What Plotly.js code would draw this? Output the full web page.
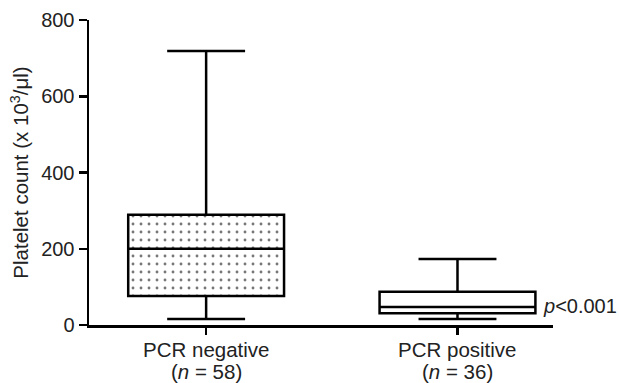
<!DOCTYPE html>
<html>
<head>
<meta charset="utf-8">
<script src="https://cdn.plot.ly/plotly-3.0.1.min.js"></script>
<style>html,body{margin:0;padding:0;background:#fff;}#chart{width:619px;height:383px;}</style>
</head>
<body>
<div id="chart"></div>
<script>
// Data
var categories = ['PCR negative', 'PCR positive'];
var nValues = [58, 36];
var lowerWhisker = [16, 16];
var q1Values = [76, 31];
var medianValues = [200, 47];
var q3Values = [289, 87];
var upperWhisker = [719, 173];
var yTicks = [0, 200, 400, 600, 800];
var pLabel = '<i>p</i>&lt;0.001';

var FONT = 'Liberation Sans, Arial, sans-serif';
var TXT = '#222';

// dotted fill for the PCR negative box (first category only)
var patternBar = {
  type: 'bar',
  x: [categories[0]],
  base: [q1Values[0]],
  y: [q3Values[0] - q1Values[0]],
  width: 0.62,
  marker: {
    color: 'white',
    line: {width: 0},
    pattern: {shape: '.', size: 8, solidity: 0.1, fgcolor: '#777', bgcolor: 'white'}
  },
  hoverinfo: 'skip',
  showlegend: false
};

var boxTrace = {
  type: 'box',
  x: categories,
  q1: q1Values,
  median: medianValues,
  q3: q3Values,
  lowerfence: lowerWhisker,
  upperfence: upperWhisker,
  width: 0.62,
  whiskerwidth: 0.5,
  boxpoints: false,
  fillcolor: 'rgba(0,0,0,0)',
  line: {color: '#000', width: 2.5},
  showlegend: false
};

// category labels as two lines with tight spacing
var labelAnnotations = [];
categories.forEach(function (c, i) {
  labelAnnotations.push({
    xref: 'x', yref: 'paper', x: c, y: -0.079,
    xanchor: 'center', yanchor: 'middle', showarrow: false,
    text: c, font: {family: FONT, size: 20.5, color: TXT}
  });
  labelAnnotations.push({
    xref: 'x', yref: 'paper', x: c, y: -0.152,
    xanchor: 'center', yanchor: 'middle', showarrow: false,
    text: '(<i>n</i> = ' + nValues[i] + ')', font: {family: FONT, size: 20.5, color: TXT}
  });
});

var layout = {
  width: 619,
  height: 383,
  margin: {l: 89, r: 66, t: 20, b: 58},
  paper_bgcolor: 'white',
  plot_bgcolor: 'white',
  font: {family: FONT, size: 20, color: TXT},
  showlegend: false,
  xaxis: {
    type: 'category',
    range: [-0.466, 1.38],
    tickvals: categories,
    showticklabels: false,
    ticks: 'outside',
    ticklen: 7,
    tickwidth: 2.5,
    tickcolor: '#000',
    showline: true,
    linecolor: '#000',
    linewidth: 2.5,
    showgrid: false,
    zeroline: false,
    fixedrange: true
  },
  yaxis: {
    range: [0, 800],
    tickvals: yTicks,
    ticks: 'outside',
    ticklen: 8,
    tickwidth: 2.5,
    tickcolor: '#000',
    showline: true,
    linecolor: '#000',
    linewidth: 2.5,
    showgrid: false,
    zeroline: false,
    fixedrange: true,
    tickfont: {family: FONT, size: 20, color: TXT},
    title: {text: 'Platelet count (x 10<sup>3</sup>/μl)', font: {family: FONT, size: 20.5, color: TXT}, standoff: 7}
  },
  annotations: labelAnnotations.concat([{
    xref: 'paper', yref: 'y',
    x: 0.975, y: 50,
    xanchor: 'left', yanchor: 'middle',
    text: pLabel,
    showarrow: false,
    font: {family: FONT, size: 20, color: TXT}
  }])
};

Plotly.newPlot('chart', [patternBar, boxTrace], layout, {staticPlot: true, displayModeBar: false});
</script>
</body>
</html>
